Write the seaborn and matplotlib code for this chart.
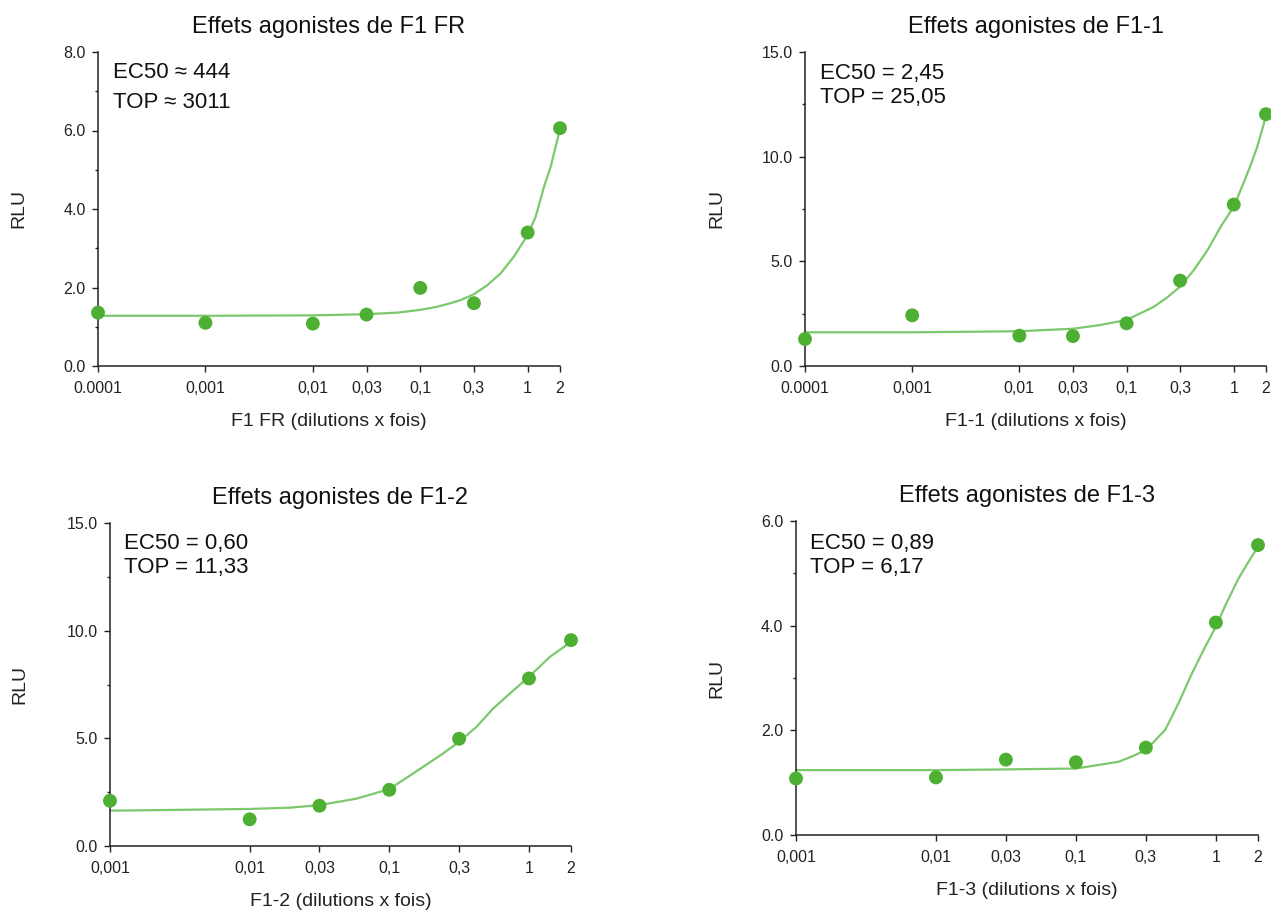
import numpy as np
import pandas as pd
import matplotlib
matplotlib.use('Agg')
import matplotlib.pyplot as plt
import seaborn as sns
from matplotlib.ticker import FixedLocator, NullLocator, MultipleLocator, FormatStrFormatter

# ---- data ----
dil_long = [0.0001, 0.001, 0.01, 0.0316, 0.1, 0.316, 1, 2]
dil_long_labels = ['0.0001', '0,001', '0,01', '0,03', '0,1', '0,3', '1', '2']
dil_short = [0.001, 0.01, 0.0316, 0.1, 0.316, 1, 2]
dil_short_labels = ['0,001', '0,01', '0,03', '0,1', '0,3', '1', '2']

rlu_f1fr = [1.36, 1.10, 1.08, 1.31, 1.99, 1.60, 3.40, 6.06]
rlu_f1_1 = [1.29, 2.42, 1.45, 1.43, 2.04, 4.08, 7.71, 12.03]
rlu_f1_2 = [2.10, 1.24, 1.87, 2.61, 4.98, 7.78, 9.56]
rlu_f1_3 = [1.08, 1.10, 1.44, 1.39, 1.67, 4.06, 5.54]

# fitted curves
fit_x_f1fr = [0.0001, 0.001, 0.01, 0.0316, 0.0612, 0.1, 0.144, 0.18, 0.238, 0.316, 0.422,
              0.56, 0.746, 1, 1.19, 1.42, 1.64, 2]
fit_y_f1fr = [1.28, 1.28, 1.29, 1.32, 1.36, 1.43, 1.51, 1.58, 1.68, 1.83, 2.06,
              2.36, 2.79, 3.34, 3.81, 4.57, 5.08, 6.04]
fit_x_f1_1 = [0.0001, 0.001, 0.01, 0.0316, 0.0571, 0.1, 0.18, 0.24, 0.316, 0.426, 0.57,
              0.757, 1, 1.25, 1.44, 1.66, 2]
fit_y_f1_1 = [1.61, 1.61, 1.66, 1.78, 1.96, 2.20, 2.83, 3.28, 3.79, 4.59, 5.54,
              6.66, 7.61, 8.81, 9.6, 10.48, 11.94]
fit_x_f1_2 = [0.001, 0.01, 0.0194, 0.0316, 0.0583, 0.1, 0.175, 0.243, 0.316, 0.422, 0.555,
              0.73, 1, 1.41, 2]
fit_y_f1_2 = [1.64, 1.72, 1.78, 1.90, 2.20, 2.64, 3.68, 4.30, 4.84, 5.54, 6.39,
              7.08, 7.86, 8.78, 9.48]
fit_x_f1_3 = [0.001, 0.01, 0.0251, 0.1, 0.202, 0.251, 0.316, 0.435, 0.541, 0.675, 0.84,
              1, 1.17, 1.45, 1.71, 2]
fit_y_f1_3 = [1.24, 1.24, 1.25, 1.27, 1.40, 1.50, 1.62, 2.01, 2.52, 3.09, 3.60,
              3.98, 4.39, 4.90, 5.22, 5.51]

titles = ['Effets agonistes de F1 FR', 'Effets agonistes de F1-1',
          'Effets agonistes de F1-2', 'Effets agonistes de F1-3']
xlabels = ['F1 FR (dilutions x fois)', 'F1-1 (dilutions x fois)',
           'F1-2 (dilutions x fois)', 'F1-3 (dilutions x fois)']
notes = [('EC50 \u2248 444', 'TOP \u2248 3011'), ('EC50 = 2,45', 'TOP = 25,05'),
         ('EC50 = 0,60', 'TOP = 11,33'), ('EC50 = 0,89', 'TOP = 6,17')]
ymax = [8, 15, 15, 6]
ystep = [2, 5, 5, 2]

# ---- style ----
sns.set_style('ticks')
plt.rcParams['font.family'] = ['Liberation Sans', 'DejaVu Sans']

W, H = 1271, 915
fig = plt.figure(figsize=(W / 100, H / 100), dpi=100)

# axes boxes in pixels: left, right, top, bottom
boxes = [(98, 560, 52, 366), (805, 1266, 52, 366), (110, 571, 523, 846), (796, 1258, 521, 835)]
ylab_off = [71, 80, 82, 71]
note_pos = [(113, 73, 102), (820, 73, 98), (124, 543, 568), (810, 543, 568)]

panels = [
    (dil_long, dil_long_labels, rlu_f1fr, fit_x_f1fr, fit_y_f1fr),
    (dil_long, dil_long_labels, rlu_f1_1, fit_x_f1_1, fit_y_f1_1),
    (dil_short, dil_short_labels, rlu_f1_2, fit_x_f1_2, fit_y_f1_2),
    (dil_short, dil_short_labels, rlu_f1_3, fit_x_f1_3, fit_y_f1_3),
]

point_color = '#4DB033'
line_color = '#7CC86C'

for i, (xs, xlabs, ys, fx, fy) in enumerate(panels):
    l, r, t, b = boxes[i]
    ax = fig.add_axes([l / W, (H - b) / H, (r - l) / W, (b - t) / H])
    ax.set_xscale('log')

    sns.lineplot(x=fx, y=fy, ax=ax, color=line_color, linewidth=1.6, sort=False, clip_on=False)
    sns.scatterplot(x=xs, y=ys, ax=ax, color=point_color, s=100, edgecolor='none',
                    clip_on=False, zorder=3)

    ax.set_xlim(xs[0], xs[-1])
    ax.set_ylim(0, ymax[i])
    ax.xaxis.set_major_locator(FixedLocator(xs))
    ax.set_xticklabels(xlabs)
    ax.xaxis.set_minor_locator(NullLocator())
    ax.yaxis.set_major_locator(MultipleLocator(ystep[i]))
    ax.yaxis.set_minor_locator(MultipleLocator(ystep[i] / 2))
    ax.yaxis.set_major_formatter(FormatStrFormatter('%.1f'))

    sns.despine(ax=ax)
    for sp in ['left', 'bottom']:
        ax.spines[sp].set_linewidth(1.1)
        ax.spines[sp].set_color('#222222')
    ax.tick_params(axis='both', which='major', labelsize=11.5, length=4, width=1,
                   color='#222222', labelcolor='#222222')
    ax.tick_params(axis='x', which='major', pad=7)
    ax.tick_params(axis='y', which='major', pad=5)
    ax.tick_params(axis='y', which='minor', length=2, width=1, color='#222222')

    ax.set_title(titles[i], fontsize=17, pad=14, color='#111111')
    ax.set_xlabel(xlabels[i], fontsize=14, color='#222222')
    ax.set_ylabel('RLU', fontsize=14, color='#222222')
    hgt = b - t
    wid = r - l
    ax.xaxis.set_label_coords(0.5, -47 / hgt)
    ax.yaxis.set_label_coords(-ylab_off[i] / wid, 0.5)

    nx, ny1, ny2 = note_pos[i]
    ax.text((nx - l) / wid, (b - ny1) / hgt, notes[i][0], transform=ax.transAxes,
            fontsize=16, va='center', ha='left', color='#111111')
    ax.text((nx - l) / wid, (b - ny2) / hgt, notes[i][1], transform=ax.transAxes,
            fontsize=16, va='center', ha='left', color='#111111')

fig.savefig('out.png', dpi=100)
